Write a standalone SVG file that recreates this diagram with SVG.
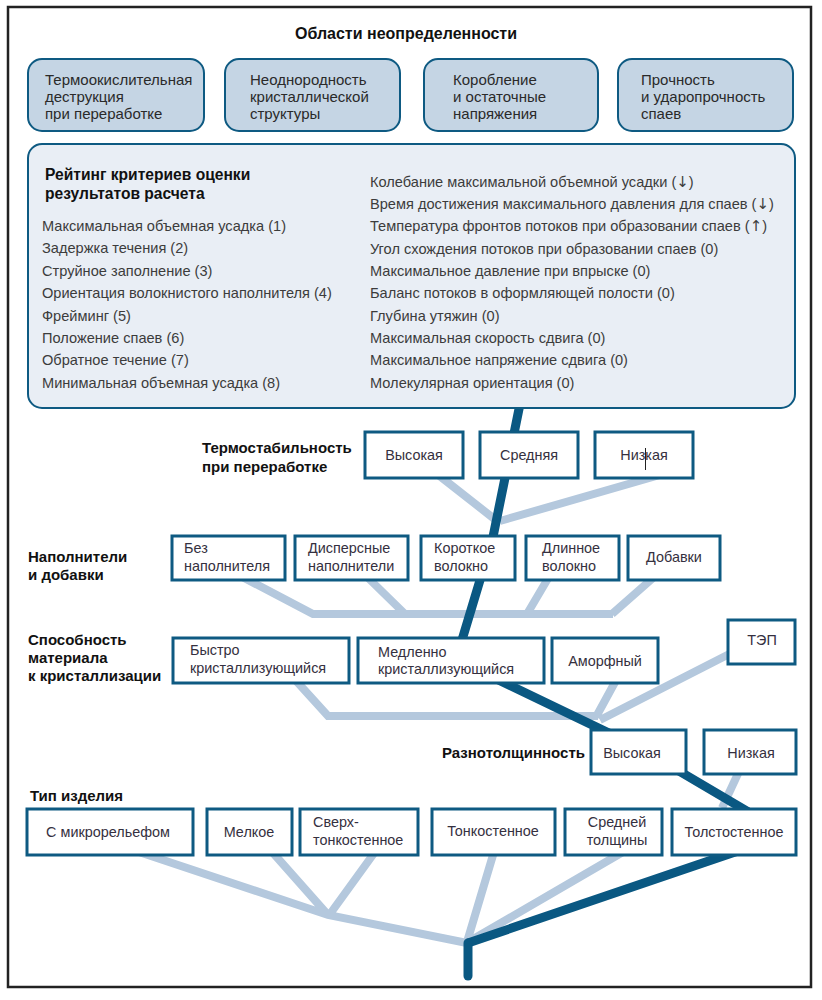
<svg xmlns="http://www.w3.org/2000/svg" width="822" height="1000" viewBox="0 0 822 1000">
<style>
text{font-family:"Liberation Sans",Arial,sans-serif;}
.title{font-size:16px;font-weight:bold;fill:#111;}
.hd{font-size:15px;font-weight:bold;fill:#111;}
.hd2{font-size:15.6px;font-weight:bold;fill:#111;}
.tb{font-size:15px;fill:#2a2a2a;}
.it{font-size:14.6px;fill:#3c3c3c;}
.ar{font-family:"DejaVu Sans",sans-serif;font-size:15px;}
.bx{font-size:14.4px;fill:#353040;}
.top{fill:#c5d5e4;stroke:#0e5a82;stroke-width:2;}
.rate{fill:#e9eef5;stroke:#0e5a82;stroke-width:2;}
.node{fill:#fff;stroke:#0e5a82;stroke-width:3;}
.lt{fill:none;stroke:#b4c8dd;stroke-width:8;stroke-linejoin:miter;}
.dk{fill:none;stroke:#0a5882;stroke-width:9;stroke-linejoin:miter;}
</style>
<rect x="0" y="0" width="822" height="1000" fill="#fff"/>
<rect x="8" y="7" width="803" height="980" fill="none" stroke="#222" stroke-width="2.5"/>
<text class="title" x="406" y="39" text-anchor="middle">Области неопределенности</text>

<g id="top1"><rect class="top" x="28" y="59" width="176" height="72" rx="14"/>
<text class="tb" x="45" y="85">Термоокислительная</text><text class="tb" x="45" y="102">деструкция</text><text class="tb" x="45" y="119">при переработке</text></g>
<g id="top2"><rect class="top" x="225" y="59" width="175" height="72" rx="14"/>
<text class="tb" x="250" y="85">Неоднородность</text><text class="tb" x="250" y="102">кристаллической</text><text class="tb" x="250" y="119">структуры</text></g>
<g id="top3"><rect class="top" x="424" y="59" width="174" height="72" rx="14"/>
<text class="tb" x="453" y="85">Коробление</text><text class="tb" x="453" y="102">и остаточные</text><text class="tb" x="453" y="119">напряжения</text></g>
<g id="top4"><rect class="top" x="618" y="59" width="175" height="72" rx="14"/>
<text class="tb" x="641" y="85">Прочность</text><text class="tb" x="641" y="102">и ударопрочность</text><text class="tb" x="641" y="119">спаев</text></g>

<g id="connectors">
<path class="lt" d="M432,470 L497,521 M677,470 L500,521"/>
<path class="lt" d="M229,570 L313,614 L613,614 M360,570 L405,614 M553,570 L527,614 M662,570 L612,614"/>
<path class="lt" d="M289,673 L328,716 L598,716 M620,673 L596,717 M745,646 L600,720"/>
<path class="lt" d="M742,765 L722,808"/>
<path class="lt" d="M118,845 L328,915 L467,943 M266,845 L328,915 M380,845 L330,914 M496,845 L467,942 M635,845 L468,942"/>
<path class="dk" d="M520,404 L493,537 L462,640 L457,660 L640,748 L745,810 L735,852 L468,943"/>
<path class="dk" d="M468,943 L468,976" stroke-linecap="round"/>
</g>

<g id="rating"><rect class="rate" x="28" y="144" width="767" height="264" rx="14"/>
<text class="hd2" x="45" y="180">Рейтинг критериев оценки</text>
<text class="hd2" x="45" y="199">результатов расчета</text>
<text class="it" x="42" y="231">Максимальная объемная усадка (1)</text>
<text class="it" x="42" y="253">Задержка течения (2)</text>
<text class="it" x="42" y="276">Струйное заполнение (3)</text>
<text class="it" x="42" y="298">Ориентация волокнистого наполнителя (4)</text>
<text class="it" x="42" y="321">Фрейминг (5)</text>
<text class="it" x="42" y="343">Положение спаев (6)</text>
<text class="it" x="42" y="365">Обратное течение (7)</text>
<text class="it" x="42" y="388">Минимальная объемная усадка (8)</text>
<text class="it" x="370" y="187">Колебание максимальной объемной усадки (<tspan class="ar">↓</tspan>)</text>
<text class="it" x="370" y="209">Время достижения максимального давления для спаев (<tspan class="ar">↓</tspan>)</text>
<text class="it" x="370" y="231">Температура фронтов потоков при образовании спаев (<tspan class="ar">↑</tspan>)</text>
<text class="it" x="370" y="254">Угол схождения потоков при образовании спаев (0)</text>
<text class="it" x="370" y="276">Максимальное давление при впрыске (0)</text>
<text class="it" x="370" y="298">Баланс потоков в оформляющей полости (0)</text>
<text class="it" x="370" y="321">Глубина утяжин (0)</text>
<text class="it" x="370" y="343">Максимальная скорость сдвига (0)</text>
<text class="it" x="370" y="365">Максимальное напряжение сдвига (0)</text>
<text class="it" x="370" y="388">Молекулярная ориентация (0)</text>
</g>

<g id="lbl-thermo"><text class="hd" x="202" y="453">Термостабильность</text><text class="hd" x="202" y="472">при переработке</text></g>
<g id="t-high"><rect class="node" x="365" y="432" width="98" height="46"/><text class="bx" x="414" y="460" text-anchor="middle">Высокая</text></g>
<g id="t-mid"><rect class="node" x="480" y="432" width="98" height="46"/><text class="bx" x="529" y="460" text-anchor="middle">Средняя</text></g>
<g id="t-low"><rect class="node" x="595" y="432" width="98" height="46"/><text class="bx" x="644" y="460" text-anchor="middle">Низкая</text><line x1="645.5" y1="448" x2="645.5" y2="470" stroke="#222" stroke-width="1"/></g>

<g id="lbl-fill"><text class="hd" x="28" y="562">Наполнители</text><text class="hd" x="28" y="580">и добавки</text></g>
<g id="f1"><rect class="node" x="172" y="536" width="113" height="44"/><text class="bx" x="184" y="553">Без</text><text class="bx" x="184" y="571">наполнителя</text></g>
<g id="f2"><rect class="node" x="295" y="536" width="113" height="44"/><text class="bx" x="308" y="553">Дисперсные</text><text class="bx" x="308" y="571">наполнители</text></g>
<g id="f3"><rect class="node" x="421" y="536" width="94" height="44"/><text class="bx" x="434" y="553">Короткое</text><text class="bx" x="434" y="571">волокно</text></g>
<g id="f4"><rect class="node" x="526" y="536" width="93" height="44"/><text class="bx" x="542" y="553">Длинное</text><text class="bx" x="542" y="571">волокно</text></g>
<g id="f5"><rect class="node" x="628" y="536" width="92" height="44"/><text class="bx" x="674" y="562" text-anchor="middle">Добавки</text></g>

<g id="lbl-cryst"><text class="hd" x="28" y="645">Способность</text><text class="hd" x="28" y="663">материала</text><text class="hd" x="28" y="681">к кристаллизации</text></g>
<g id="c1"><rect class="node" x="173" y="638" width="176" height="45"/><text class="bx" x="190" y="655">Быстро</text><text class="bx" x="190" y="673">кристаллизующийся</text></g>
<g id="c2"><rect class="node" x="358" y="638" width="186" height="45"/><text class="bx" x="378" y="657">Медленно</text><text class="bx" x="378" y="674">кристаллизующийся</text></g>
<g id="c3"><rect class="node" x="552" y="638" width="106" height="45"/><text class="bx" x="605" y="666" text-anchor="middle">Аморфный</text></g>
<g id="c4"><rect class="node" x="728" y="620" width="67" height="44"/><text class="bx" x="762" y="645" text-anchor="middle">ТЭП</text></g>

<g id="lbl-thick"><text class="hd" x="442" y="758">Разнотолщинность</text></g>
<g id="h1"><rect class="node" x="591" y="730" width="95" height="44"/><text class="bx" x="632" y="758" text-anchor="middle">Высокая</text></g>
<g id="h2"><rect class="node" x="704" y="730" width="92" height="44"/><text class="bx" x="751" y="758" text-anchor="middle">Низкая</text></g>

<g id="lbl-type"><text class="hd" x="30" y="801">Тип изделия</text></g>
<g id="p1"><rect class="node" x="27" y="809" width="166" height="46"/><text class="bx" x="108" y="837" text-anchor="middle">С микрорельефом</text></g>
<g id="p2"><rect class="node" x="207" y="809" width="85" height="46"/><text class="bx" x="249" y="837" text-anchor="middle">Мелкое</text></g>
<g id="p3"><rect class="node" x="300" y="809" width="118" height="46"/><text class="bx" x="313" y="827">Сверх-</text><text class="bx" x="313" y="845">тонкостенное</text></g>
<g id="p4"><rect class="node" x="432" y="809" width="123" height="46"/><text class="bx" x="493" y="836" text-anchor="middle">Тонкостенное</text></g>
<g id="p5"><rect class="node" x="565" y="809" width="97" height="46"/><text class="bx" x="617" y="827" text-anchor="middle">Средней</text><text class="bx" x="617" y="845" text-anchor="middle">толщины</text></g>
<g id="p6"><rect class="node" x="672" y="809" width="124" height="46"/><text class="bx" x="734" y="837" text-anchor="middle">Толстостенное</text></g>
</svg>
